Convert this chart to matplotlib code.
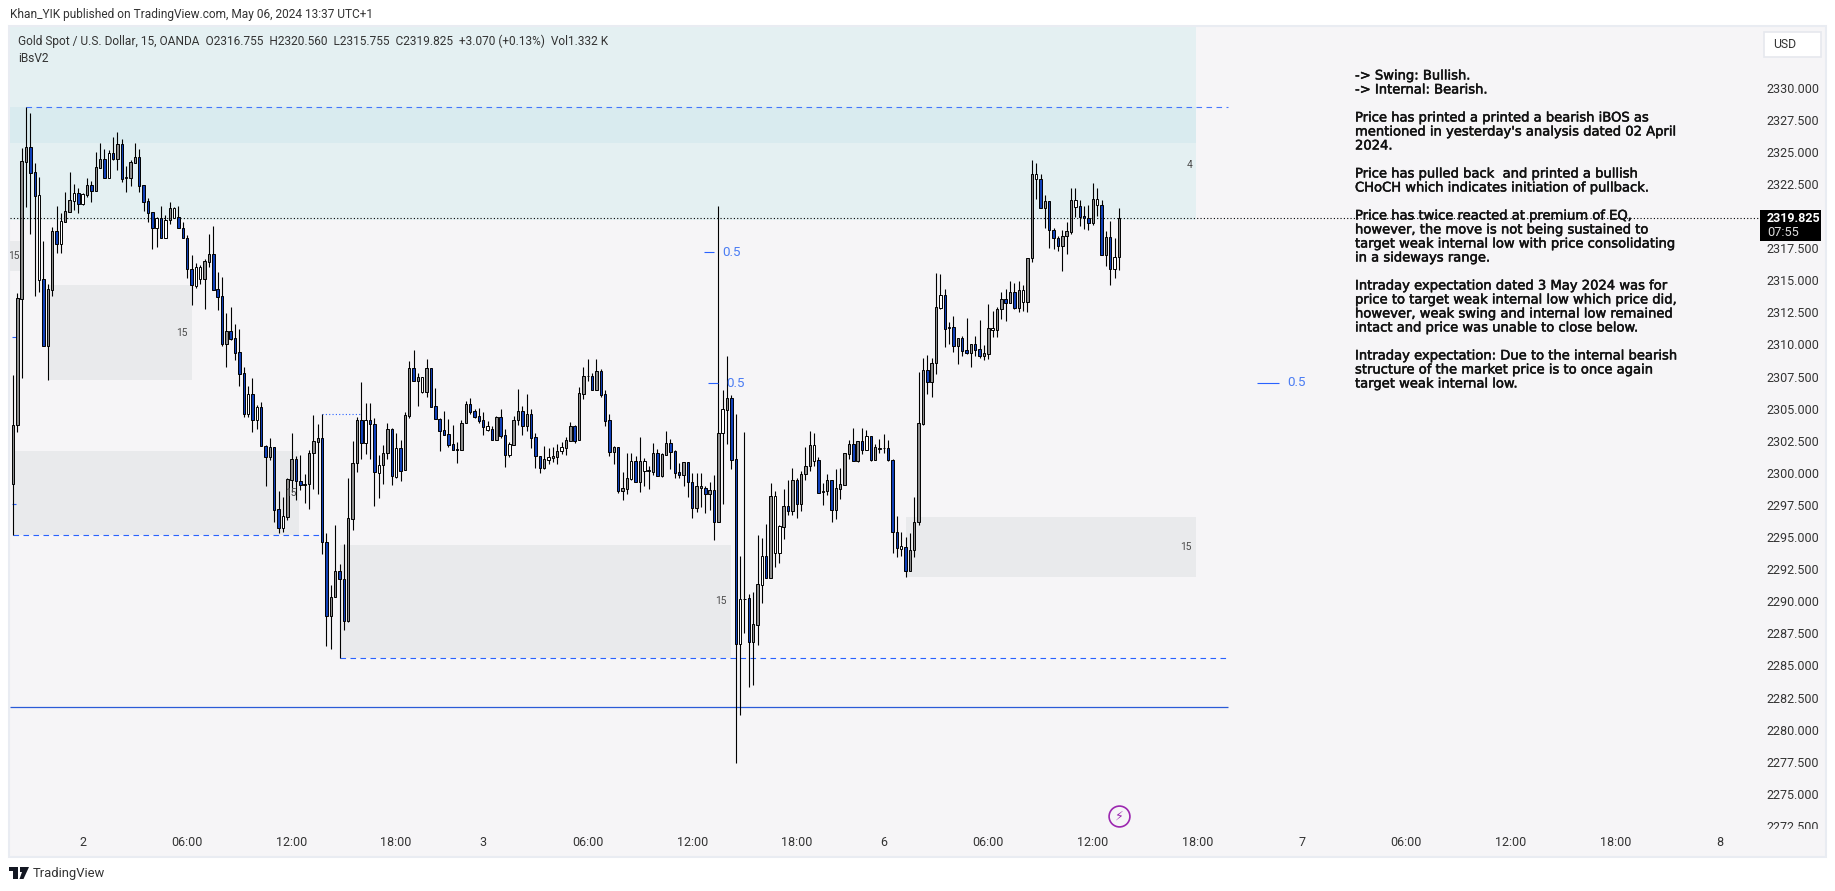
import matplotlib
matplotlib.use("Agg")
import matplotlib.pyplot as plt
import matplotlib.patheffects as pe
from matplotlib.patches import Rectangle, Polygon

W, H = 1835, 891

wick_high = [2307.62,2314.01,2325.30,2328.52,2328.05,2324.11,2323.02,2318.06,2314.71,2319.17,
2320.78,2320.21,2321.85,2323.41,2322.50,2322.16,2321.77,2322.94,2322.73,2324.96,
2325.72,2325.22,2325.15,2326.13,2326.52,2325.98,2323.93,2324.37,2325.72,2325.22,
2322.42,2321.38,2320.34,2319.90,2320.78,2320.08,2321.07,2320.68,2320.78,2319.51,
2318.53,2316.97,2316.32,2316.19,2316.66,2318.60,2319.23,2315.62,2315.23,2312.42,
2312.89,2311.59,2311.20,2308.22,2306.77,2307.36,2305.29,2305.52,2302.17,2302.69,
2301.99,2298.59,2298.09,2299.57,2303.08,2301.31,2301.39,2299.91,2301.78,2304.51,
2303.81,2304.58,2295.34,2291.27,2295.94,2292.90,2294.46,2299.57,2302.48,2304.38,
2307.05,2305.41,2305.41,2304.25,2301.37,2302.14,2303.86,2303.47,2303.10,2302.56,
2304.71,2308.69,2309.57,2307.75,2307.49,2308.87,2308.14,2306.58,2304.25,2304.82,
2304.20,2303.73,2302.38,2304.12,2305.57,2305.83,2304.95,2305.03,2304.71,2304.04,
2303.65,2304.43,2304.95,2303.44,2302.40,2304.43,2306.50,2305.21,2306.11,2304.95,
2303.08,2301.31,2302.09,2301.91,2302.04,2302.22,2302.43,2302.77,2303.93,2303.73,
2306.69,2308.22,2308.84,2307.80,2308.87,2308.09,2306.45,2304.56,2302.09,2301.99,
2300.07,2301.52,2301.52,2301.31,2302.77,2301.13,2300.56,2302.30,2301.86,2301.52,
2303.26,2302.64,2301.78,2300.79,2300.82,2300.87,2299.96,2299.96,2300.02,2298.98,
2299.31,2299.83,2320.78,2306.45,2309.08,2306.05,2304.55,2293.56,2303.19,2290.53,
2290.73,2295.15,2294.92,2296.05,2299.23,2298.60,2295.91,2298.74,2299.45,2300.36,
2299.59,2300.16,2302.00,2303.27,2303.08,2301.21,2299.23,2299.88,2299.42,2300.30,
2300.36,2301.57,2302.57,2303.47,2302.51,2303.47,2303.33,2302.85,2302.23,2302.65,
2302.99,2302.57,2301.07,2296.62,2295.43,2295.03,2295.29,2298.09,2307.88,2308.92,
2309.18,2308.92,2315.54,2315.49,2314.30,2311.72,2312.22,2310.48,2310.66,2312.06,
2310.04,2310.66,2311.90,2309.96,2313.15,2312.61,2312.89,2314.06,2314.30,2314.94,
2314.76,2314.94,2314.63,2316.71,2324.37,2324.11,2323.28,2321.64,2321.20,2319.04,
2318.45,2318.91,2319.51,2322.19,2322.19,2321.25,2320.78,2320.86,2322.55,2322.16,
2321.25,2318.84,2319.62,2318.27,2320.63]

body_top = [2303.73,2313.62,2324.29,2325.35,2325.35,2323.41,2321.62,2315.07,2314.29,2318.84,
2318.84,2319.62,2320.37,2321.25,2321.77,2321.77,2321.69,2322.42,2322.42,2323.80,
2324.42,2324.42,2324.89,2324.89,2325.61,2325.61,2323.02,2324.19,2324.57,2324.57,
2322.39,2321.15,2320.29,2319.82,2319.82,2319.69,2320.60,2320.60,2319.90,2319.05,
2318.27,2315.85,2316.01,2316.01,2316.50,2317.02,2317.02,2314.29,2313.75,2311.02,
2311.02,2310.48,2309.39,2307.75,2306.12,2306.12,2305.10,2305.10,2302.09,2301.99,
2301.99,2297.16,2296.61,2299.50,2301.05,2301.05,2299.39,2299.11,2301.52,2302.46,
2302.69,2302.69,2294.59,2290.31,2292.33,2292.33,2291.71,2296.46,2300.74,2304.09,
2304.09,2304.09,2304.09,2303.83,2300.59,2301.52,2303.39,2303.39,2301.91,2301.91,
2304.48,2308.14,2308.14,2307.44,2307.44,2308.14,2308.14,2305.18,2304.22,2303.31,
2303.00,2302.22,2301.83,2303.86,2305.34,2305.34,2304.79,2304.40,2304.09,2303.62,
2303.39,2304.35,2304.32,2302.92,2302.22,2304.09,2304.79,2304.79,2304.56,2304.56,
2302.77,2301.29,2301.05,2301.21,2301.29,2301.68,2301.99,2302.53,2303.65,2303.65,
2306.19,2307.54,2307.54,2307.54,2307.91,2307.91,2306.12,2304.09,2301.99,2301.99,
2298.79,2299.57,2300.90,2300.90,2300.90,2300.90,2300.20,2301.52,2301.52,2301.44,
2302.30,2302.30,2301.68,2300.04,2300.82,2300.82,2299.26,2298.95,2298.95,2298.79,
2298.64,2298.64,2303.14,2304.95,2305.82,2305.82,2301.07,2290.17,2290.19,2290.22,
2288.21,2291.33,2293.51,2293.51,2298.18,2298.18,2295.86,2297.39,2297.39,2299.42,
2299.42,2299.88,2300.50,2302.14,2302.14,2300.98,2298.55,2299.42,2299.42,2298.80,
2299.11,2301.52,2302.23,2302.23,2302.45,2302.45,2302.85,2302.85,2302.00,2301.97,
2301.94,2301.91,2301.04,2295.43,2294.27,2294.25,2293.99,2296.15,2303.86,2308.01,
2308.01,2308.53,2312.89,2313.85,2313.85,2311.33,2311.33,2310.48,2310.48,2309.54,
2310.01,2310.01,2309.62,2309.31,2311.26,2311.26,2312.74,2313.52,2313.52,2314.06,
2314.06,2314.22,2314.22,2316.71,2323.25,2323.25,2322.86,2321.17,2321.15,2318.89,
2318.32,2318.42,2318.81,2321.23,2321.23,2320.76,2319.98,2319.82,2321.30,2321.30,
2320.84,2318.35,2318.35,2316.79,2319.82]

body_bottom = [2299.13,2303.73,2313.56,2324.24,2323.38,2321.59,2315.05,2309.91,2309.91,2314.24,
2317.83,2317.85,2319.56,2320.34,2321.17,2320.97,2320.94,2321.64,2321.98,2321.98,
2323.77,2322.99,2322.99,2324.45,2324.45,2322.91,2322.99,2322.99,2324.16,2322.37,
2321.12,2320.27,2319.10,2319.07,2318.32,2318.32,2319.69,2319.82,2319.05,2318.27,
2315.85,2314.61,2314.58,2315.12,2315.12,2316.45,2314.27,2313.72,2310.06,2310.06,
2310.45,2309.36,2307.73,2304.61,2304.61,2304.14,2304.14,2302.07,2301.26,2301.26,
2297.13,2295.73,2295.73,2296.59,2299.47,2299.39,2299.08,2299.08,2299.11,2301.52,
2302.43,2294.59,2288.88,2288.88,2290.31,2291.71,2288.49,2288.49,2296.43,2300.74,
2302.35,2302.35,2303.83,2300.04,2300.01,2300.59,2301.52,2299.73,2299.70,2300.17,
2300.20,2304.45,2307.18,2307.18,2306.27,2306.32,2305.15,2304.22,2303.29,2302.97,
2302.17,2301.80,2301.75,2301.75,2303.86,2304.74,2304.35,2304.04,2303.60,2303.36,
2302.59,2302.59,2302.87,2301.42,2301.42,2302.20,2304.09,2303.67,2303.67,2302.74,
2301.29,2300.35,2300.35,2301.03,2301.18,2301.26,2301.68,2301.96,2302.51,2302.48,
2302.53,2306.17,2307.52,2306.48,2306.48,2306.09,2304.07,2301.60,2301.60,2298.61,
2298.61,2298.77,2299.55,2299.31,2299.31,2300.17,2300.17,2300.09,2299.78,2299.76,
2301.42,2301.65,2300.02,2299.86,2299.86,2299.26,2297.24,2297.24,2298.79,2298.38,
2298.38,2296.20,2296.20,2303.08,2304.92,2301.04,2286.71,2286.71,2290.17,2286.85,
2286.85,2288.18,2291.30,2291.84,2291.84,2293.79,2293.79,2295.80,2297.05,2297.05,
2297.61,2297.61,2299.88,2300.50,2300.95,2298.46,2298.52,2298.55,2297.13,2297.13,
2298.77,2299.08,2301.49,2300.95,2300.95,2301.80,2301.80,2301.04,2301.04,2301.89,
2301.91,2301.04,2295.43,2294.13,2294.10,2292.38,2292.38,2293.97,2296.15,2303.81,
2307.10,2307.10,2308.53,2312.87,2311.23,2311.31,2309.91,2309.91,2309.52,2309.36,
2309.36,2309.60,2309.13,2309.13,2309.28,2311.10,2311.10,2312.74,2313.26,2313.26,
2312.87,2312.87,2313.33,2313.33,2316.71,2322.86,2320.65,2320.65,2318.89,2318.32,
2317.70,2317.70,2318.42,2318.78,2320.73,2319.95,2319.82,2319.49,2319.49,2320.84,
2316.99,2316.99,2315.90,2315.90,2316.79]

wick_low = [2295.16,2303.18,2307.41,2320.73,2318.60,2313.80,2314.11,2309.91,2307.23,2313.80,
2317.15,2317.15,2319.56,2320.34,2320.47,2320.27,2320.86,2321.51,2321.12,2321.98,
2323.77,2322.99,2322.99,2324.37,2323.59,2322.68,2321.90,2322.34,2324.16,2321.90,
2320.40,2319.56,2317.44,2317.62,2318.32,2318.32,2319.38,2319.82,2319.05,2318.27,
2315.20,2313.07,2314.42,2314.71,2312.79,2316.06,2314.27,2312.68,2309.91,2308.27,
2310.35,2308.79,2306.79,2304.38,2304.38,2303.21,2303.44,2302.07,2298.98,2301.00,
2296.20,2295.29,2295.39,2296.33,2298.54,2297.89,2298.67,2297.68,2297.18,2298.72,
2298.35,2293.68,2286.52,2286.31,2290.31,2285.56,2287.76,2288.39,2295.55,2300.09,
2301.08,2301.47,2301.08,2297.42,2298.07,2299.13,2301.08,2299.08,2299.63,2299.37,
2300.20,2304.30,2307.18,2305.23,2306.22,2305.93,2305.15,2304.22,2301.70,2302.97,
2302.04,2301.80,2300.79,2301.75,2303.86,2304.58,2304.25,2303.91,2302.95,2303.26,
2302.59,2302.59,2302.71,2300.48,2301.26,2302.20,2303.75,2302.95,2303.29,2301.96,
2300.38,2300.01,2300.33,2300.72,2300.87,2300.72,2301.47,2301.39,2302.51,2302.35,
2302.53,2305.78,2307.18,2306.48,2306.48,2305.93,2303.65,2301.31,2300.69,2298.46,
2297.89,2298.35,2299.44,2299.26,2298.53,2298.98,2298.74,2299.83,2299.78,2299.65,
2301.42,2300.27,2299.63,2299.57,2298.98,2298.15,2296.51,2296.98,2297.37,2296.85,
2297.11,2294.77,2296.20,2297.61,2302.28,2300.30,2277.43,2281.11,2287.56,2283.32,
2283.51,2286.63,2289.88,2291.84,2291.84,2292.66,2292.99,2294.87,2296.73,2296.68,
2296.48,2297.05,2299.45,2300.16,2300.50,2298.46,2297.53,2298.26,2296.20,2296.39,
2297.98,2299.08,2301.09,2300.95,2300.87,2301.49,2301.80,2300.95,2301.04,2301.57,
2301.52,2300.92,2293.79,2293.45,2293.56,2291.92,2292.38,2293.47,2295.94,2303.73,
2306.14,2305.94,2307.70,2312.79,2309.83,2310.04,2309.44,2308.48,2309.10,2309.26,
2308.27,2309.10,2308.97,2308.79,2308.87,2310.61,2310.61,2311.98,2311.85,2313.26,
2312.76,2312.55,2312.63,2312.55,2316.45,2321.33,2320.65,2319.10,2317.54,2317.43,
2317.28,2315.75,2317.05,2318.60,2319.95,2319.23,2318.97,2318.91,2319.33,2320.00,
2316.99,2316.11,2314.63,2315.18,2315.80]

candle_kinds = ("ggggbbwbgg" "bwggwbwgbg" "gbwbgbwggb" "bbbwbwgwbb" "bbwwggbbbg"
                "bbbbwbwbbg" "bbwggbbwgg" "gbbggbbggg" "bwbbwggbwb" "ggbgwgbbbb"
                "bbbggbbbbw" "bgbbwggbgb" "bbgwggwggb" "ggwbgbbbgb" "ggwbgwwgbg"
                "gbbbgbbggb" "gbgwgbbwwb" "ggwbgwwgbg" "bgggwbwgbg" "gggbgbwbgw"
                "wbbbwbgggg" "bggwbwbgbb" "gbbggwggbg" "bgwggwbgbb" "bgggwbbbgw"
                "bgbwg")

price_ticks = [2272.5 + 2.5 * i for i in range(24)]
time_tick_bars = [16, 40, 64, 88, 108, 132, 156, 180, 200, 224, 248, 272, 296, 320, 344, 368, 392]
time_tick_labels = ["2", "06:00", "12:00", "18:00", "3", "06:00", "12:00", "18:00", "6",
                    "06:00", "12:00", "18:00", "7", "06:00", "12:00", "18:00", "8"]

last_price = 2319.825
swing_high = 2328.47
supply_low = 2325.67
teal_low = 2319.69
midline = 2281.74

grey_zones = [(-0.7, 2.0, 2315.72, 2318.06), (8.1, 41.0, 2307.23, 2314.63), (0.2, 65.8, 2295.14, 2301.73),
              (75.0, 164.9, 2285.60, 2294.38), (205.2, 271.6, 2291.89, 2296.59)]
note_lines = ["-> Swing: Bullish.", "-> Internal: Bearish.", "",
              "Price has printed a printed a bearish iBOS as", "mentioned in yesterday's analysis dated 02 April", "2024.", "",
              "Price has pulled back  and printed a bullish", "CHoCH which indicates initiation of pullback.", "",
              "Price has twice reacted at premium of EQ,", "however, the move is not being sustained to",
              "target weak internal low with price consolidating", "in a sideways range.", "",
              "Intraday expectation dated 3 May 2024 was for", "price to target weak internal low which price did,",
              "however, weak swing and internal low remained", "intact and price was unable to close below.", "",
              "Intraday expectation: Due to the internal bearish", "structure of the market price is to once again",
              "target weak internal low."]

# ------------------------------------------------------------------
PANE = "#f6f5f7"
BLUE = "#2962ff"
FILL = {"g": "#8c8c8c", "b": "#0f3fb8", "w": "#ffffff"}
UI = ["Roboto", "DejaVu Sans"]


def fx(x):
    return x / W


def fy(y):
    return 1 - y / H


fig = plt.figure(figsize=(W / 100, H / 100), dpi=100, facecolor="white")
fig.add_artist(Rectangle((fx(9), fy(857)), (1826 - 9) / W, (857 - 26) / H, transform=fig.transFigure,
                         facecolor=PANE, edgecolor="#e9ecf2", linewidth=1.5, zorder=0))
L, R, T, B = 10, 1825, 27, 829
ax = fig.add_axes([fx(L), fy(B), (R - L) / W, (B - T) / H], zorder=1)
ax.patch.set_alpha(0)
for s in ax.spines.values():
    s.set_visible(False)
ax.set_xlim((L - 13) / 4.354, (R - 13) / 4.354)
ax.set_ylim(2336.827 - B * 0.07788, 2336.827 - T * 0.07788)

x0, x1 = ax.get_xlim()
y0, y1 = ax.get_ylim()
ax.add_patch(Rectangle((x0, teal_low), 271.7 - x0, y1 - teal_low, facecolor="#e4f0f2", edgecolor="none", zorder=1))
ax.add_patch(Rectangle((x0, supply_low), 271.7 - x0, swing_high - supply_low, facecolor="#d9ebef", edgecolor="none", zorder=1.1))
for a, b, lo, hi in grey_zones:
    ax.add_patch(Rectangle((a, lo), b - a, hi - lo, facecolor="#e9eaec", edgecolor="none", zorder=1.2))

# levels
ax.hlines(swing_high, 3, 279, color=BLUE, lw=0.8, linestyles=(0, (5, 4)), alpha=0.85, zorder=2)
ax.hlines(2295.14, 0, 71, color=BLUE, lw=0.8, linestyles=(0, (5, 4)), zorder=2)
ax.hlines(2285.56, 75, 279, color=BLUE, lw=0.8, linestyles=(0, (5, 4)), zorder=2)
ax.hlines(midline, x0, 279, color="#2a5bd7", lw=0.9, zorder=2)
ax.hlines(2304.56, 71, 80, color=BLUE, lw=0.8, linestyles=(0, (1, 2)), zorder=2)
ax.hlines(last_price, x0, 401, color="black", lw=0.8, linestyles=(0, (1, 2)), zorder=5)
ax.hlines([2310.56, 2297.56], -0.2, 0.8, color=BLUE, lw=0.8, zorder=2)

# candles
n = len(wick_high)
xs = list(range(n))
ax.vlines(xs, wick_low, wick_high, color="black", lw=0.8, zorder=3)
ax.bar(xs, [t - b for t, b in zip(body_top, body_bottom)], bottom=body_bottom, width=0.56,
       color=[FILL[k] for k in candle_kinds], edgecolor="black", linewidth=0.7, zorder=4)

# 0.5 markers
for xa, xb, lv, tx in [(158.6, 161.0, 2317.18, 162.8), (159.6, 162.0, 2306.97, 163.9), (285.7, 290.8, 2307.0, 292.6)]:
    ax.hlines(lv, xa, xb, color=BLUE, lw=0.8, zorder=3)
    ax.text(tx, lv, "0.5", color="#4a7cf3", fontsize=9.6, va="center", ha="left", family=UI, zorder=5)

# small zone labels
for bx, pr, lab in [(1.6, 2316.9, "15"), (40.0, 2310.9, "15"), (65.1, 2298.47, "15"),
                    (164.0, 2290.0, "15"), (270.8, 2294.25, "15"), (270.8, 2324.0, "4")]:
    ax.text(bx, pr, lab, fontsize=7.4, color="#4a4a4a", va="center", ha="right", family=UI, zorder=5, clip_on=True)

# session-break marker
ax.plot([254], [2273.3], marker="o", ms=15, mfc="none", mec="#9c27b0", mew=1.2, zorder=5, clip_on=False, ls="none")
ax.text(254, 2273.3, "\u26a1", color="#9c27b0", fontsize=9, ha="center", va="center", family="DejaVu Sans", zorder=6)

# price scale
ax.yaxis.tick_right()
ax.set_yticks(price_ticks)
ax.set_yticklabels([f"{p:.3f}" for p in price_ticks], fontsize=9.0, color="#333333", family=UI)
ax.tick_params(axis="y", length=0, pad=-42)
for t in ax.get_yticklabels():
    t.set_verticalalignment("center_baseline")
    t.set_clip_box(ax.bbox)
    t.set_clip_on(True)

# time scale
ax.set_xticks(time_tick_bars)
ax.set_xticklabels(time_tick_labels, fontsize=9.0, color="#333333", family=UI)
ax.tick_params(axis="x", length=0, pad=5)

# price tag
fig.add_artist(Rectangle((fx(1760), fy(241)), 61 / W, 31 / H, transform=fig.transFigure, facecolor="black", edgecolor="none", zorder=6))
fig.text(fx(1767), fy(218), f"{last_price:.3f}", color="white", fontsize=9.0, fontweight="bold", va="center", family=UI, zorder=7)
fig.text(fx(1767), fy(232.5), "07:55", color="#dddddd", fontsize=9.2, va="center", family=UI, zorder=7)

# USD button
fig.add_artist(Rectangle((fx(1763.5), fy(57)), 57 / W, 25 / H, transform=fig.transFigure, facecolor="white", edgecolor="#e6e8ee", lw=1.2, zorder=6))
fig.text(fx(1773), fy(44.5), "USD", color="#333333", fontsize=8.8, va="center", family=UI, zorder=7)

# annotation block
line_y = 76
for line in note_lines:
    if line:
        fig.text(fx(1355), fy(line_y), line, fontsize=9.45, color="#111111", va="center", ha="left",
                 family="DejaVu Sans", zorder=4,
                 path_effects=[pe.withStroke(linewidth=0.35, foreground="#111111")])
    line_y += 14

# header / legend
fig.text(fx(10), fy(14.7), "Khan_YIK published on TradingView.com, May 06, 2024 13:37 UTC+1", fontsize=8.55,
         color="#333333", va="center", family=UI)
fig.text(fx(18), fy(41.7),
         "Gold Spot / U.S. Dollar, 15, OANDA  O2316.755  H2320.560  L2315.755  C2319.825  +3.070 (+0.13%)  Vol1.332 K",
         fontsize=8.6, color="#333333", va="center", family=UI, zorder=7)
fig.text(fx(18), fy(59), "iBsV2", fontsize=8.6, color="#333333", va="center", family=UI, zorder=7)

# logo
for pts in ([(9, 867), (18, 867), (18, 879), (13, 879), (13, 871), (9, 871)],
            [(20, 867), (29, 867), (23.5, 879), (19.5, 879), (22, 872), (20, 872)]):
    fig.add_artist(Polygon([(fx(a), fy(b)) for a, b in pts], closed=True, transform=fig.transFigure,
                           facecolor="#131722", edgecolor="none"))
fig.text(fx(33), fy(873.5), "TradingView", fontsize=9.4, color="#333333", va="center", family=UI)

fig.savefig("out.png", dpi=100)
